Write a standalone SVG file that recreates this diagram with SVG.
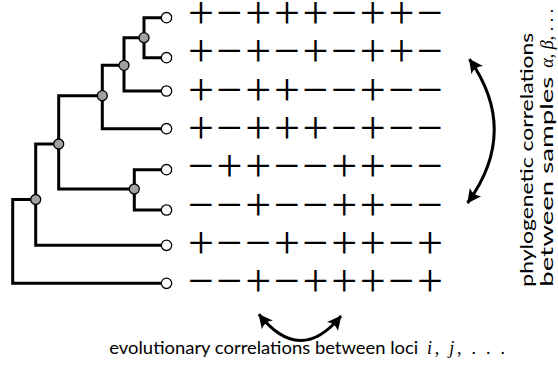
<svg xmlns="http://www.w3.org/2000/svg" width="558" height="369" viewBox="0 0 558 369">
<style>
.edge{fill:none;stroke:#000;stroke-width:3;stroke-linecap:square;stroke-linejoin:miter}
.leaf{fill:#fff;stroke:#000;stroke-width:1.3}
.inner{fill:#a0a2a0;stroke:#000;stroke-width:1.3}
.sym{font-family:"Liberation Serif",serif;font-size:46px;fill:#000;text-anchor:middle}
.lab{font-family:Lato,"Open Sans",sans-serif;font-size:17px;fill:#000}
.math{font-family:"Liberation Serif",serif;font-size:18px;fill:#000}
.arc{fill:none;stroke:#000;stroke-width:3}
</style>
<defs>
<marker id="ah" markerUnits="userSpaceOnUse" viewBox="-15 -8 17 16" refX="0" refY="0" markerWidth="17" markerHeight="16" orient="auto-start-reverse">
<path d="M0.5,0 L-13.5,-7 Q-9,0 -13.5,7 Z" fill="#000"/>
</marker>
</defs>

<g id="connectors">
<path class="edge" d="M161.5,17.7 H144 V57.7 H161.5"/>
<path class="edge" d="M144,37.7 H124 V91 H161.5"/>
<path class="edge" d="M124,65.3 H102.3 V128.7 H161.5"/>
<path class="edge" d="M161.5,169.7 H134.3 V210 H161.5"/>
<path class="edge" d="M102.3,95.7 H58.7 V189 H134.3"/>
<path class="edge" d="M58.7,144 H35.7 V245.3 H161.5"/>
<path class="edge" d="M35.7,199.5 H12.7 V283.3 H161.5"/>
</g>

<g id="node-A"><circle class="inner" cx="144" cy="37.7" r="5"/></g>
<g id="node-B"><circle class="inner" cx="124" cy="65.3" r="5"/></g>
<g id="node-C"><circle class="inner" cx="102.3" cy="95.7" r="5"/></g>
<g id="node-D"><circle class="inner" cx="58.7" cy="144" r="5"/></g>
<g id="node-E"><circle class="inner" cx="134.3" cy="189" r="5"/></g>
<g id="node-F"><circle class="inner" cx="35.7" cy="199.5" r="5"/></g>

<g id="leaf-1"><circle class="leaf" cx="166.5" cy="17.7" r="5.2"/></g>
<g id="leaf-2"><circle class="leaf" cx="166.5" cy="57.7" r="5.2"/></g>
<g id="leaf-3"><circle class="leaf" cx="166.5" cy="91" r="5.2"/></g>
<g id="leaf-4"><circle class="leaf" cx="166.5" cy="128.7" r="5.2"/></g>
<g id="leaf-5"><circle class="leaf" cx="166.5" cy="169.7" r="5.2"/></g>
<g id="leaf-6"><circle class="leaf" cx="166.5" cy="210" r="5.2"/></g>
<g id="leaf-7"><circle class="leaf" cx="166.5" cy="245.3" r="5.2"/></g>
<g id="leaf-8"><circle class="leaf" cx="166.5" cy="283.3" r="5.2"/></g>

<g id="grid">
<text class="sym" x="201 229.6 258.3 286.9 315.5 344.2 372.8 401.4 430" y="28.1">+−+++−++−</text>
<text class="sym" x="201 229.6 258.3 286.9 315.5 344.2 372.8 401.4 430" y="66.4">+−+−+−++−</text>
<text class="sym" x="201 229.6 258.3 286.9 315.5 344.2 372.8 401.4 430" y="104.7">+−++−−+−−</text>
<text class="sym" x="201 229.6 258.3 286.9 315.5 344.2 372.8 401.4 430" y="143.1">+−+++−+−−</text>
<text class="sym" x="201 229.6 258.3 286.9 315.5 344.2 372.8 401.4 430" y="181.4">−++−−++−−</text>
<text class="sym" x="201 229.6 258.3 286.9 315.5 344.2 372.8 401.4 430" y="219.7">−−+−−++−−</text>
<text class="sym" x="201 229.6 258.3 286.9 315.5 344.2 372.8 401.4 430" y="258.1">+−−+−++−+</text>
<text class="sym" x="201 229.6 258.3 286.9 315.5 344.2 372.8 401.4 430" y="296.4">−−+−+++−+</text>
</g>

<g id="arrows">
<path class="arc" d="M469.4,59.1 Q520,131 467.5,203" marker-start="url(#ah)" marker-end="url(#ah)"/>
<path class="arc" d="M258.9,314.3 Q300,366 341.1,315.9" marker-start="url(#ah)" marker-end="url(#ah)"/>
</g>

<g id="labels">
<text class="lab" x="109.3" y="354.3" textLength="309" lengthAdjust="spacingAndGlyphs">evolutionary correlations between loci</text>
<text class="math" x="427" y="354.3" textLength="78" lengthAdjust="spacing"><tspan font-style="italic">i</tspan>, <tspan font-style="italic">j</tspan>, . . .</text>
<g transform="translate(532.7 286.7) rotate(-90)">
<text class="lab" x="0" y="0" textLength="254" lengthAdjust="spacingAndGlyphs">phylogenetic correlations</text>
</g>
<g transform="translate(553.3 286.7) rotate(-90)">
<text class="lab" x="0" y="0" textLength="210" lengthAdjust="spacingAndGlyphs">between samples</text>
<text class="math" x="219" y="0" font-size="17"><tspan font-style="italic">α</tspan>, <tspan font-style="italic">β</tspan>, . . .</text>
</g>
</g>
</svg>
